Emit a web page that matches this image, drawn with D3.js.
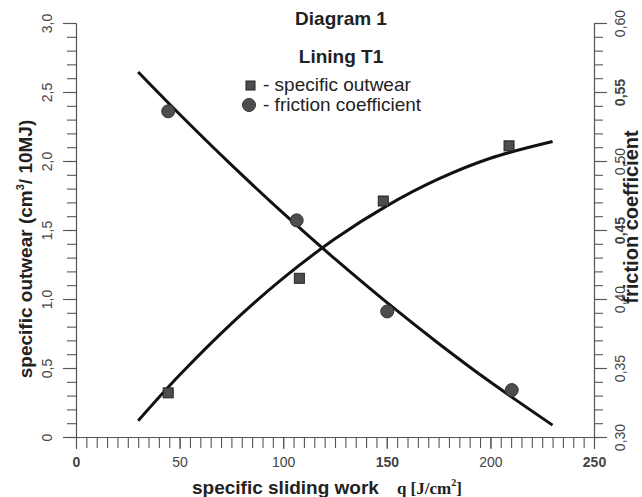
<!DOCTYPE html>
<html><head><meta charset="utf-8">
<script src="https://cdn.jsdelivr.net/npm/d3@7"></script>
<style>
html,body{margin:0;padding:0;background:#fff;}
svg{display:block;font-family:"Liberation Sans",Arial,sans-serif;}
</style></head>
<body>
<svg id="chart" width="642" height="497"></svg>
<script>
// ---- data ----
const outwearX = [44.5, 107.8, 148.3, 209.0];        // specific sliding work q
const outwearY = [0.32, 1.15, 1.71, 2.11];            // specific outwear (left axis)
const frictionX = [44.5, 106.5, 150.2, 210.3];
const frictionY = [0.536, 0.457, 0.391, 0.334];       // friction coefficient (right axis)
const outwearFitX = [30, 50, 75, 100, 125, 150, 175, 200, 230];
const outwearFitY = [0.118, 0.449, 0.822, 1.151, 1.436, 1.675, 1.870, 2.020, 2.141];
const frictionFitX = [30, 50, 75, 100, 125, 150, 175, 200, 230];
const frictionFitY = [0.5645, 0.5339, 0.4972, 0.4622, 0.429, 0.3975, 0.3678, 0.3398, 0.3086];
const xTicks = [0, 50, 100, 150, 200, 250];
const leftTicks = [0, 0.5, 1.0, 1.5, 2.0, 2.5, 3.0];
const leftTickLabels = ["0", "0,5", "1,0", "1,5", "2,0", "2,5", "3,0"];
const rightTicks = [0.30, 0.35, 0.40, 0.45, 0.50, 0.55, 0.60];
const rightTickLabels = ["0,30", "0,35", "0,40", "0,45", "0,50", "0,55", "0,60"];
const titleLines = ["Diagram 1", "Lining T1"];
const legendLabels = ["- specific outwear", "- friction coefficient"];

// ---- drawing ----
const svg = d3.select("#chart");
const x = d3.scaleLinear([0, 250], [76, 594]);
const yL = d3.scaleLinear([0, 3], [437, 23]);
const yR = d3.scaleLinear([0.30, 0.60], [437, 23]);
const axisColor = "#555";

function styleAxis(g) {
  g.selectAll("path,line").attr("stroke", axisColor).attr("stroke-width", 1.1);
  g.selectAll("text").attr("fill", "#444").attr("font-size", 14)
   .attr("font-family", '"Liberation Sans",Arial,sans-serif');
}

// minor ticks
const xMinor = d3.range(0, 251, 5);
svg.append("g").attr("transform", "translate(0,437)")
  .call(d3.axisBottom(x).tickValues(xMinor).tickSize(11).tickSizeOuter(0).tickFormat(""))
  .call(styleAxis);
const yMinor = d3.range(0, 31).map(d => d / 10);
svg.append("g").attr("transform", "translate(76,0)")
  .call(d3.axisLeft(yL).tickValues(yMinor).tickSize(9).tickSizeOuter(0).tickFormat(""))
  .call(styleAxis);
const rMinor = d3.range(30, 61).map(d => d / 100);
svg.append("g").attr("transform", "translate(594,0)")
  .call(d3.axisRight(yR).tickValues(rMinor).tickSize(9).tickSizeOuter(0).tickFormat(""))
  .call(styleAxis);

// major ticks + labels
const gx = svg.append("g").attr("transform", "translate(0,437)")
  .call(d3.axisBottom(x).tickValues(xTicks).tickSize(12).tickSizeOuter(0).tickFormat(d3.format("d")))
  .call(styleAxis);
gx.selectAll("text").attr("y", 30).attr("dy", null)
  .attr("font-weight", d => (d === 150 || d === 250 || d === 0) ? "bold" : "normal");

const gl = svg.append("g").attr("transform", "translate(76,0)")
  .call(d3.axisLeft(yL).tickValues(leftTicks).tickSize(13).tickSizeOuter(0)
        .tickFormat((d, i) => leftTickLabels[i]))
  .call(styleAxis);
gl.selectAll("text").attr("x", null).attr("dy", null)
  .attr("text-anchor", "middle").attr("transform", "translate(-24,0) rotate(-90)");

const gr = svg.append("g").attr("transform", "translate(594,0)")
  .call(d3.axisRight(yR).tickValues(rightTicks).tickSize(13).tickSizeOuter(0)
        .tickFormat((d, i) => rightTickLabels[i]))
  .call(styleAxis);
gr.selectAll("text").attr("x", null).attr("dy", null)
  .attr("text-anchor", "middle").attr("transform", "translate(31,0) rotate(-90)")
  .attr("font-weight", (d, i) => (i === 3 || i === 5) ? "bold" : "normal");

// fit curves
const lineL = d3.line().x(d => x(d[0])).y(d => yL(d[1])).curve(d3.curveCatmullRom);
const lineR = d3.line().x(d => x(d[0])).y(d => yR(d[1])).curve(d3.curveCatmullRom);
svg.append("path").datum(outwearFitX.map((v, i) => [v, outwearFitY[i]]))
  .attr("d", lineL).attr("fill", "none").attr("stroke", "#111").attr("stroke-width", 3);
svg.append("path").datum(frictionFitX.map((v, i) => [v, frictionFitY[i]]))
  .attr("d", lineR).attr("fill", "none").attr("stroke", "#111").attr("stroke-width", 3);

// markers
const sq = 10;
svg.append("g").selectAll("rect").data(outwearX.map((v, i) => [v, outwearY[i]])).join("rect")
  .attr("x", d => x(d[0]) - sq / 2).attr("y", d => yL(d[1]) - sq / 2)
  .attr("width", sq).attr("height", sq)
  .attr("fill", "#4d4d4d").attr("stroke", "#222").attr("stroke-width", 1);
svg.append("g").selectAll("circle").data(frictionX.map((v, i) => [v, frictionY[i]])).join("circle")
  .attr("cx", d => x(d[0])).attr("cy", d => yR(d[1])).attr("r", 6.5)
  .attr("fill", "#4d4d4d").attr("stroke", "#333").attr("stroke-width", 1);

// titles
svg.append("text").attr("x", 341).attr("y", 25).attr("text-anchor", "middle")
  .attr("font-size", 19).attr("font-weight", "bold").attr("fill", "#222").text(titleLines[0]);
svg.append("text").attr("x", 341).attr("y", 63).attr("text-anchor", "middle")
  .attr("font-size", 19).attr("font-weight", "bold").attr("fill", "#222").text(titleLines[1]);

// legend
svg.append("rect").attr("x", 246).attr("y", 81).attr("width", 9).attr("height", 9)
  .attr("fill", "#4d4d4d").attr("stroke", "#222").attr("stroke-width", 1);
svg.append("circle").attr("cx", 249).attr("cy", 105).attr("r", 6.5)
  .attr("fill", "#4d4d4d").attr("stroke", "#333").attr("stroke-width", 1);
svg.append("text").attr("x", 263).attr("y", 91).attr("font-size", 19).attr("fill", "#222").text(legendLabels[0]);
svg.append("text").attr("x", 263).attr("y", 111).attr("font-size", 19).attr("fill", "#222").text(legendLabels[1]);

// axis titles
const lt = svg.append("text").attr("transform", "translate(32,249) rotate(-90)")
  .attr("text-anchor", "middle").attr("font-size", 19).attr("font-weight", "bold").attr("fill", "#222");
lt.append("tspan").text("specific outwear  (cm");
lt.append("tspan").attr("font-size", 11).attr("dy", -8).text("3");
lt.append("tspan").attr("dy", 8).text("/ 10MJ)");

svg.append("text").attr("transform", "translate(638,217) rotate(-90)")
  .attr("text-anchor", "middle").attr("font-size", 20).attr("font-weight", "bold").attr("fill", "#222")
  .text("friction coefficient");

const xt = svg.append("text").attr("x", 192).attr("y", 494)
  .attr("font-size", 19).attr("font-weight", "bold").attr("fill", "#222");
xt.append("tspan").text("specific sliding work");
const serif = '"Liberation Serif","Times New Roman",serif';
xt.append("tspan").attr("dx", 18).attr("font-family", serif).attr("font-size", 17).text("q [J/cm");
xt.append("tspan").attr("font-family", serif).attr("font-size", 10).attr("dy", -8).text("2");
xt.append("tspan").attr("font-family", serif).attr("font-size", 17).attr("dy", 8).text("]");
</script>
</body></html>
